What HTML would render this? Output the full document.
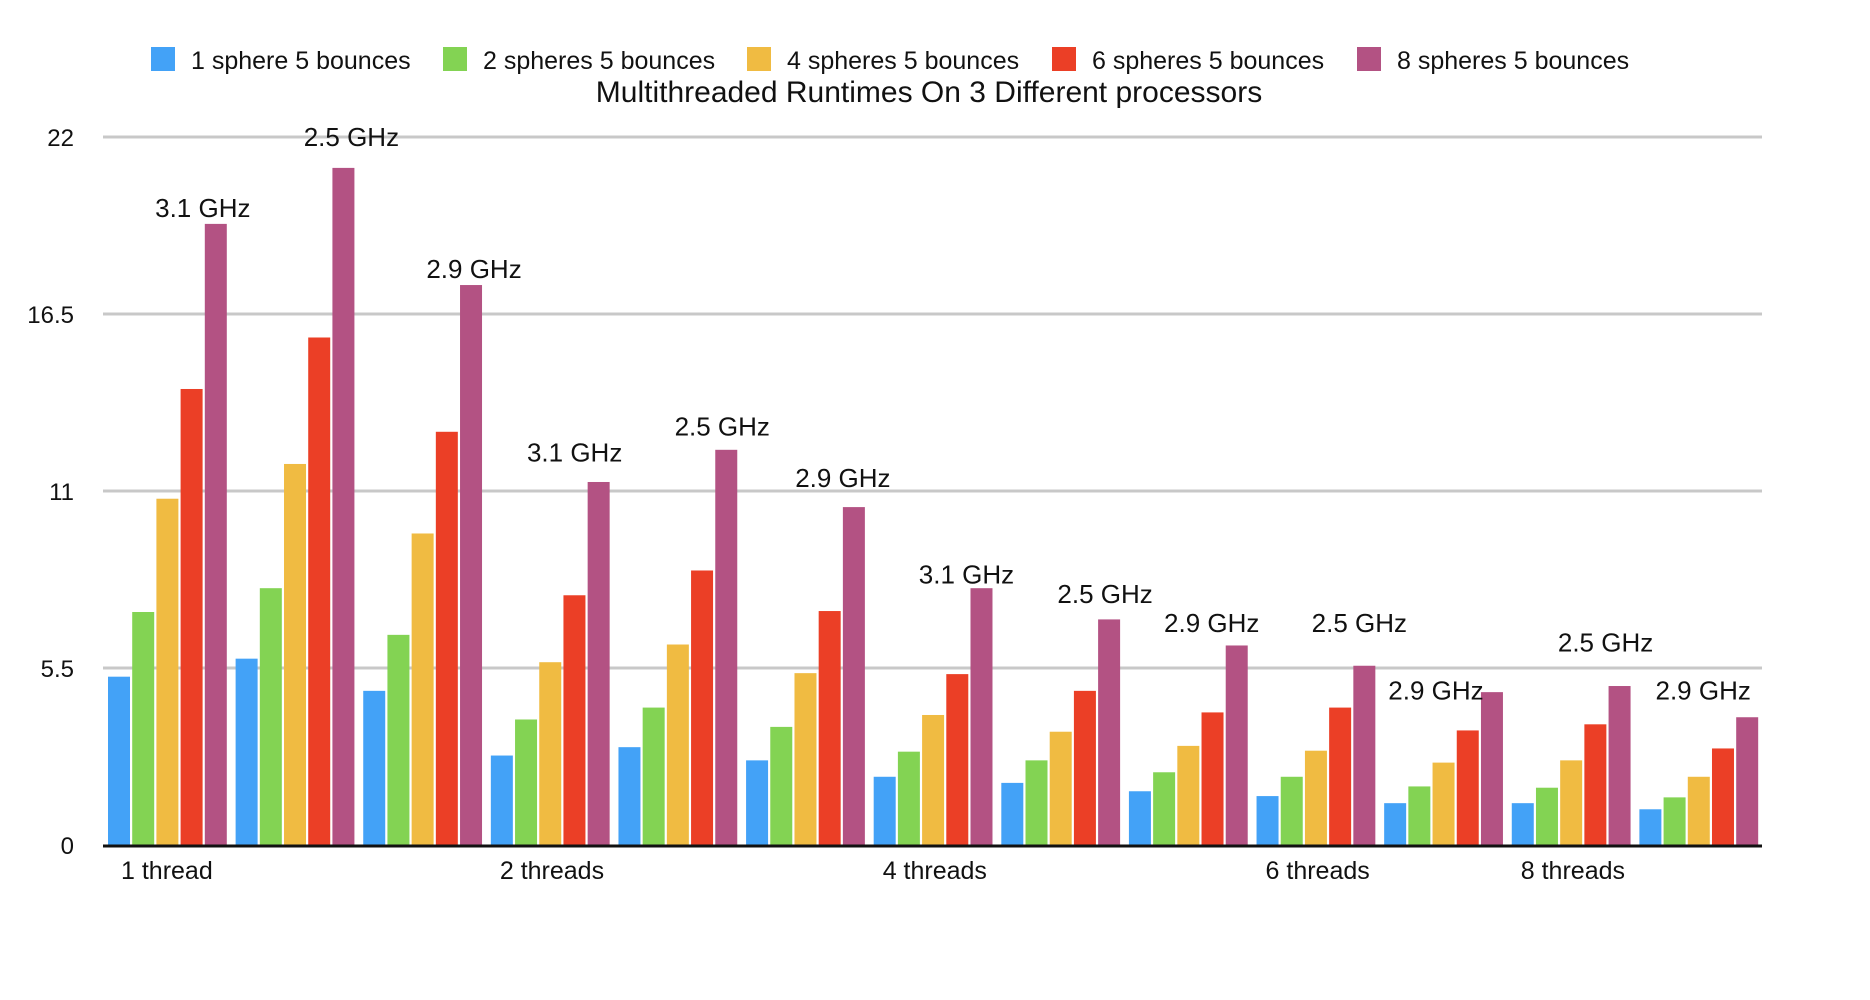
<!DOCTYPE html>
<html><head><meta charset="utf-8"><style>
body{margin:0;background:#fff;}
svg{display:block;font-family:"Liberation Sans",Arial,sans-serif;}
</style></head><body>
<svg id="chart" width="1870" height="1000" viewBox="0 0 1870 1000" xmlns="http://www.w3.org/2000/svg">
<g id="legend"></g>
<text x="929" y="102" font-size="30" text-anchor="middle" fill="#111">Multithreaded Runtimes On 3 Different processors</text>
<g id="grid"></g>
<g id="bars"></g>
<g id="labels"></g>
</svg>
<script>
const seriesNames = ["1 sphere 5 bounces","2 spheres 5 bounces","4 spheres 5 bounces","6 spheres 5 bounces","8 spheres 5 bounces"];
const colors = ["#43a2f7","#83d353","#f0bb42","#eb3f26","#b35283"];
const s1 = [5.23,5.79,4.79,2.78,3.04,2.63,2.12,1.93,1.67,1.52,1.30,1.30,1.11];
const s2 = [7.24,7.98,6.53,3.90,4.27,3.67,2.90,2.63,2.26,2.12,1.82,1.78,1.48];
const s4 = [10.76,11.84,9.68,5.68,6.23,5.34,4.04,3.52,3.08,2.93,2.56,2.63,2.12];
const s6 = [14.17,15.77,12.84,7.76,8.53,7.27,5.31,4.79,4.12,4.27,3.56,3.75,3.00];
const s8 = [19.30,21.04,17.40,11.28,12.28,10.50,7.98,7.01,6.20,5.57,4.75,4.94,3.97];
const yTicks = [0,5.5,11,16.5,22];
const yTickLabels = ["0","5.5","11","16.5","22"];
const catLabels = ["1 thread","2 threads","4 threads","6 threads","8 threads"];
const catGroupStart = [0,3,6,9,11];
const ghzLabels = ["3.1 GHz","2.5 GHz","2.9 GHz","3.1 GHz","2.5 GHz","2.9 GHz","3.1 GHz","2.5 GHz","2.9 GHz","2.5 GHz","2.9 GHz","2.5 GHz","2.9 GHz"];
const ghzLabelLevel = [19.8,22.0,17.9,12.2,13.0,11.4,8.4,7.8,6.9,6.9,4.8,6.3,4.8];
const ghzLabelDx = [-13,8,3,-24,-4,-11,-15,-4,-25,-5,-56,-14,-44];

const NS="http://www.w3.org/2000/svg";
const series=[s1,s2,s4,s6,s8];
const x0=103,x1=1762,yBase=845,yTop=137,maxV=22;
const nG=s1.length, gW=(x1-x0)/nG, bW=22, bP=24.2, gOff=5;
function y(v){return yBase-(v/maxV)*(yBase-yTop);}
function xb(g,s){return x0+g*gW+gOff+s*bP;}
function mk(tag,attrs,parent){const e=document.createElementNS(NS,tag);for(const k in attrs)e.setAttribute(k,attrs[k]);parent.appendChild(e);return e;}
const grid=document.getElementById('grid'),bars=document.getElementById('bars'),labels=document.getElementById('labels'),legend=document.getElementById('legend');
yTicks.forEach((t,i)=>{
  if(t>0){const l=mk('line',{x1:x0,x2:x1,y1:y(t),y2:y(t),stroke:'#c8c8c8','stroke-width':3},grid);
  
  }
  const tx=mk('text',{x:74,y:y(t)+9,'font-size':24,'text-anchor':'end',fill:'#111'},grid);
  tx.textContent=yTickLabels[i];
  
  
});
series.forEach((arr,s)=>{arr.forEach((v,g)=>{
  const r=mk('rect',{x:xb(g,s),y:y(v),width:bW,height:yBase-y(v),fill:colors[s]},bars);
  
  
});});
const ax=mk('line',{x1:x0,x2:x1,y1:yBase+1,y2:yBase+1,stroke:'#111','stroke-width':3},bars);


const catDx=[18,14,14,14,14];
catLabels.forEach((c,i)=>{
  const t=mk('text',{x:x0+catGroupStart[i]*gW+catDx[i],y:879,'font-size':25,fill:'#111'},labels);
  t.textContent=c;
  
  
});
ghzLabels.forEach((c,g)=>{
  const cx=xb(g,4)+bW/2+ghzLabelDx[g];
  const t=mk('text',{x:cx,y:y(ghzLabelLevel[g])+9,'font-size':26,'text-anchor':'middle',fill:'#111'},labels);
  t.textContent=c;
  
  
});
const legX=[151,443,747,1052,1357];
seriesNames.forEach((n,i)=>{
  const r=mk('rect',{x:legX[i],y:47,width:24,height:24,fill:colors[i]},legend);
  
  
  const t=mk('text',{x:legX[i]+40,y:69,'font-size':25,fill:'#111'},legend);
  t.textContent=n;
  
  
});
</script>
</body></html>
